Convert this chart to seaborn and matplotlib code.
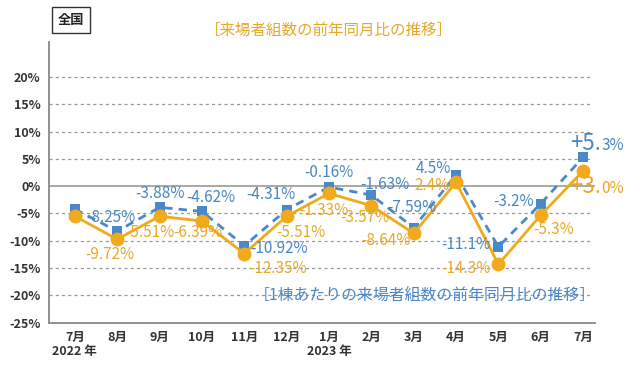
import pandas as pd
import matplotlib.pyplot as plt
import seaborn as sns

months = ["7月", "8月", "9月", "10月", "11月", "12月", "1月",
          "2月", "3月", "4月", "5月", "6月", "7月"]
year_notes = {0: "2022 年", 6: "2023 年"}

# per building (blue, dashed)
per_building = [-4.2, -8.25, -3.88, -4.62, -10.92, -4.31, -0.16,
                -1.63, -7.59, 2.1, -11.1, -3.2, 5.3]
per_building_labels = [None, "-8.25%", "-3.88%", "-4.62%", "-10.92%", "-4.31%", "-0.16%",
                       "-1.63%", "-7.59%", "4.5%", "-11.1%", "-3.2%", None]
# total visitors (orange, solid)
visitors = [-5.5, -9.72, -5.51, -6.39, -12.35, -5.51, -1.33,
            -3.57, -8.64, 0.7, -14.3, -5.3, 2.8]
visitors_labels = [None, "-9.72%", "-5.51%", "-6.39%", "-12.35%", "-5.51%", "-1.33%",
                   "-3.57%", "-8.64%", "2.4%", "-14.3%", "-5.3%", None]

y_ticks = [20, 15, 10, 5, 0, -5, -10, -15, -20, -25]

BLUE = "#4a88c8"
BLUE_TXT = "#4a86c4"
ORANGE = "#f0aa1c"
ORANGE_TXT = "#e8a828"

sns.set_style("white")
plt.rcParams["font.family"] = ["Noto Sans CJK JP", "DejaVu Sans"]

df_b = pd.DataFrame({"x": range(len(months)), "y": per_building})
df_v = pd.DataFrame({"x": range(len(months)), "y": visitors})

fig = plt.figure(figsize=(6.4, 3.68), dpi=100)
ax = fig.add_axes([49 / 640, 1 - 322.7 / 368, (595 - 49) / 640, (322.7 - 42) / 368])

for yv in y_ticks:
    if yv in (0, -25):
        continue
    ax.axhline(yv, xmin=0, xmax=(590 - 49) / (595 - 49), color="#999999",
               lw=0.9, ls=(0, (2.5, 2.5)), zorder=0)
ax.axhline(0, color="#999999", lw=1.2, zorder=0)

sns.lineplot(data=df_b, x="x", y="y", ax=ax, color=BLUE, lw=2,
             linestyle=(0, (3, 2.2)), marker="s", markersize=7.5,
             markeredgewidth=0, zorder=3)
sns.lineplot(data=df_v, x="x", y="y", ax=ax, color=ORANGE, lw=2,
             marker="o", markersize=10, markeredgewidth=0, zorder=4)

b_off = [None, (-6, 14), (0, 14), (9, 14), (35, -3), (-16, 15), (0, 15),
         (14, 11), (-2, 20), (-23, 6), (-33, 2), (-27, 2), None]
v_off = [None, (-7, -15), (-10, -16), (-4, -11), (34, -15), (14, -16), (-5, -17),
         (-6, -12), (-28, -7), (-24, -3), (-33, -4), (13, -14), None]

for i, (lab, off) in enumerate(zip(per_building_labels, b_off)):
    if lab is None:
        continue
    ax.annotate(lab, (i, per_building[i]), xytext=off, textcoords="offset pixels",
                ha="center", va="center", fontsize=11, color=BLUE_TXT, zorder=5)
for i, (lab, off) in enumerate(zip(visitors_labels, v_off)):
    if lab is None:
        continue
    ax.annotate(lab, (i, visitors[i]), xytext=off, textcoords="offset pixels",
                ha="center", va="center", fontsize=11, color=ORANGE_TXT, zorder=5)

# last-month emphasized labels
ax.annotate("+5.", (12, per_building[12]), xytext=(18, 14), textcoords="offset pixels",
            ha="right", va="center", fontsize=16, color=BLUE_TXT)
ax.annotate("3%", (12, per_building[12]), xytext=(18, 12), textcoords="offset pixels",
            ha="left", va="center", fontsize=11, color=BLUE_TXT)
ax.annotate("+3.", (12, visitors[12]), xytext=(18, -16), textcoords="offset pixels",
            ha="right", va="center", fontsize=16, color=ORANGE_TXT)
ax.annotate("0%", (12, visitors[12]), xytext=(18, -18), textcoords="offset pixels",
            ha="left", va="center", fontsize=11, color=ORANGE_TXT)

ax.set_xlim(-0.61, 12.28)
ax.set_ylim(-25, 26.4)
ax.set_yticks(y_ticks)
ax.set_yticklabels([f"{v}%" for v in y_ticks], fontsize=9, fontweight="bold", color="#333333")
ax.set_xticks(range(len(months)))
ax.set_xticklabels([m + ("\n" + year_notes[i] if i in year_notes else "")
                    for i, m in enumerate(months)],
                   fontsize=9, fontweight="bold", color="#333333", linespacing=1.1)
for lab in ax.get_xticklabels():
    lab.set_verticalalignment("top")
ax.tick_params(axis="both", length=0, pad=6)
ax.set_xlabel("")
ax.set_ylabel("")

for side in ["top", "right"]:
    ax.spines[side].set_visible(False)
for side in ["left", "bottom"]:
    ax.spines[side].set_color("#888888")
    ax.spines[side].set_linewidth(1.3)

ax.text(596 / 640, 1 - 296 / 368, "［1棟あたりの来場者組数の前年同月比の推移］",
        transform=fig.transFigure, ha="right", va="center", fontsize=11.4, color=BLUE_TXT)
fig.text(329 / 640, 1 - 30 / 368, "［来場者組数の前年同月比の推移］",
         ha="center", va="center", fontsize=11.2, color=ORANGE_TXT)
fig.text(71 / 640, 1 - 20 / 368, "全国", ha="center", va="center", fontsize=9.5,
         fontweight="bold", color="#222222",
         bbox=dict(boxstyle="square,pad=0.45", fc="white", ec="#333333", lw=1))

fig.savefig("out.png", dpi=100)
